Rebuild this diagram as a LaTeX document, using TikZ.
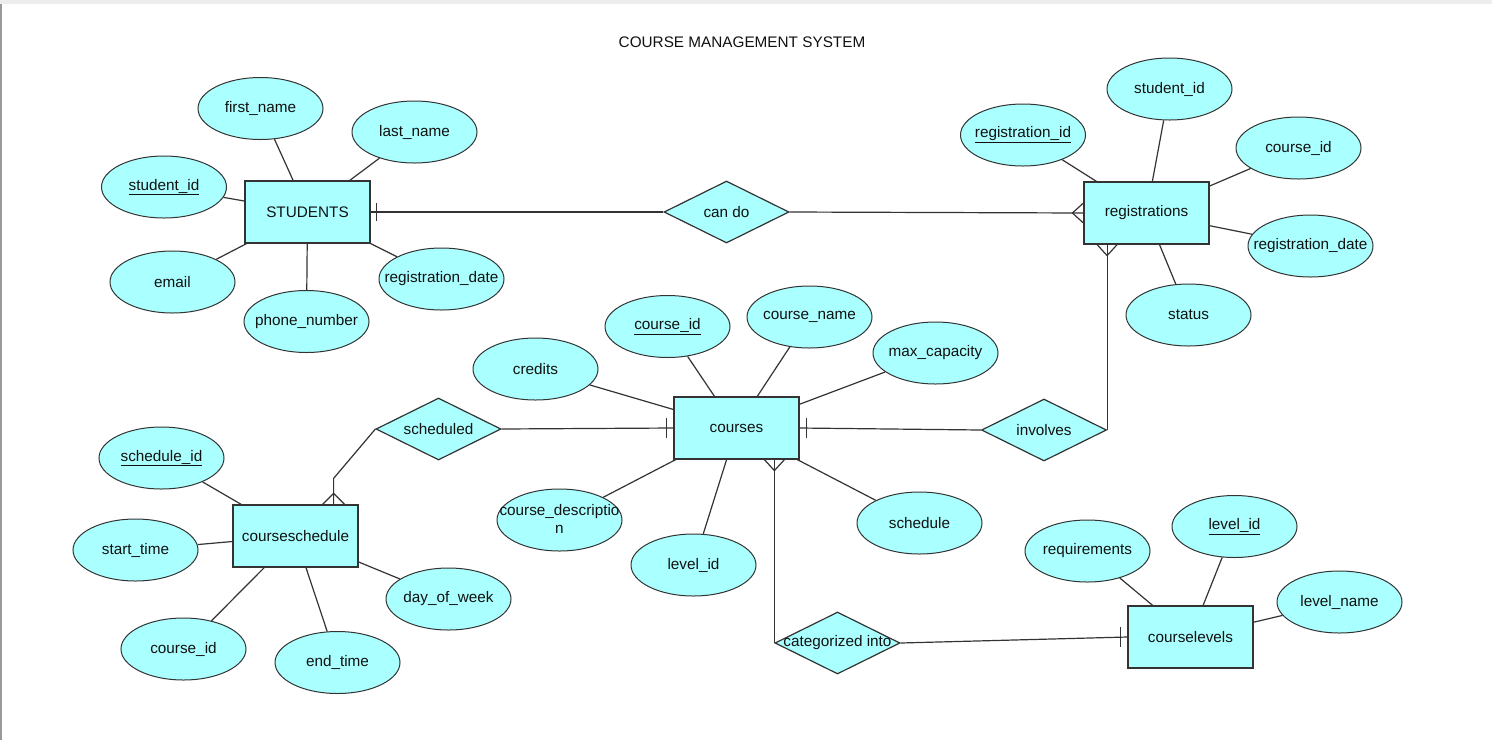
\documentclass[tikz,border=0pt]{standalone}
\usepackage{fontspec}
\setmainfont{Liberation Sans}
\usetikzlibrary{shapes.geometric,calc}
\definecolor{attrfill}{RGB}{170,255,255}
\definecolor{edgecol}{RGB}{51,51,51}
\definecolor{txtcol}{RGB}{17,17,17}
\begin{document}
\begin{tikzpicture}[x=1pt,y=-1pt,
  every node/.style={font=\fontsize{15.3}{18}\selectfont, text=txtcol},
  attr/.style={ellipse, draw=edgecol, line width=1pt, fill=attrfill, minimum width=125pt, minimum height=62pt, inner sep=0pt, label=center:{#1}},
  entity/.style={rectangle, draw=edgecol, line width=1.2pt, fill=attrfill, minimum width=125pt, minimum height=62pt, inner sep=0pt},
  rel/.style={diamond, draw=edgecol, line width=1.2pt, fill=attrfill, minimum width=125pt, minimum height=62pt, inner sep=0pt, aspect=2, label=center:{#1}},
  conn/.style={draw=edgecol, line width=1.2pt},
]
% canvas
\useasboundingbox (0,0) rectangle (1492,740);
\fill[white] (0,0) rectangle (1492,740);
\fill[black!7] (0,0) rectangle (1492,4);
\draw[black!40, line width=1.5pt] (1,4) -- (1,740);

\node (title) at (742,42) {COURSE MANAGEMENT SYSTEM};

% ---------- nodes ----------
\node[entity] (students) at (307.5,212) {STUDENTS};
\node[attr={first\_name}] (sfirst) at (260.5,108.5) {};
\node[attr={last\_name}] (slast) at (414.5,132) {};
\node[attr={\underline{student\_id}}] (sid) at (164,187) {};
\node[attr={email}] (semail) at (172.5,282) {};
\node[attr={phone\_number}] (sphone) at (306.5,321.5) {};
\node[attr={registration\_date}] (sregdate) at (441.5,279) {};

\node[rel={can do}] (cando) at (726.5,212) {};

\node[entity] (regs) at (1146.5,213) {registrations};
\node[attr={\underline{registration\_id}}] (rid) at (1023,135) {};
\node[attr={student\_id}] (rsid) at (1169.5,89) {};
\node[attr={course\_id}] (rcid) at (1298.5,148) {};
\node[attr={registration\_date}] (rdate) at (1310.5,246) {};
\node[attr={status}] (rstatus) at (1188.5,315) {};

\node[entity] (courses) at (736.5,428) {courses};
\node[attr={\underline{course\_id}}] (cid) at (667.5,326.5) {};
\node[attr={course\_name}] (cname) at (809.5,317) {};
\node[attr={max\_capacity}] (cmax) at (935.5,353) {};
\node[attr={credits}] (ccred) at (535.5,369) {};
\node[attr={}] (cdesc) at (559.5,520) {};
\node[align=center] (cdesctext) at ($(cdesc)+(0,-1)$) {course\_descriptio\\n};
\node[attr={level\_id}] (clevel) at (693.5,565) {};
\node[attr={schedule}] (csched) at (919.5,523) {};

\node[rel={involves}] (involves) at (1044,430) {};
\node[rel={scheduled}] (scheduled) at (438.5,429) {};

\node[entity] (cs) at (295.5,536) {courseschedule};
\node[attr={\underline{schedule\_id}}] (csid) at (161.5,458) {};
\node[attr={start\_time}] (csstart) at (135.5,550) {};
\node[attr={course\_id}] (cscid) at (183.5,649) {};
\node[attr={end\_time}] (csend) at (337.5,662.5) {};
\node[attr={day\_of\_week}] (csday) at (448.5,599) {};

\node[rel={categorized into}] (catinto) at (837.5,643) {};

\node[entity] (levels) at (1190.5,637) {courselevels};
\node[attr={requirements}] (lreq) at (1087.5,551) {};
\node[attr={\underline{level\_id}}] (lid) at (1234.5,526.5) {};
\node[attr={level\_name}] (lname) at (1339.5,602) {};

% ---------- attribute connectors ----------
\draw[conn] (sfirst) -- (students);
\draw[conn] (slast) -- (students);
\draw[conn] (sid) -- (students);
\draw[conn] (semail) -- (students);
\draw[conn] (sphone) -- (students);
\draw[conn] (sregdate) -- (students);

\draw[conn] (rid) -- (regs);
\draw[conn] (rsid) -- (regs);
\draw[conn] (rcid) -- (regs);
\draw[conn] (rdate) -- (regs);
\draw[conn] (rstatus) -- (regs);

\draw[conn] (cid) -- ($(courses.north)+(-22,0)$);
\draw[conn] (cname) -- (courses);
\draw[conn] (cmax) -- (courses);
\draw[conn] (ccred) -- (courses);
\draw[conn] (cdesc) -- (courses);
\draw[conn] (clevel) -- (courses);
\draw[conn] (csched) -- (courses);

\draw[conn] (csid) -- (cs);
\draw[conn] (csstart) -- (cs);
\draw[conn] (cscid) -- (cs);
\draw[conn] (csend) -- (cs);
\draw[conn] (csday) -- (cs);

\draw[conn] (lreq) -- (levels);
\draw[conn] (lid) -- (levels);
\draw[conn] (lname) -- (levels);

% ---------- relationship connectors ----------
\coordinate (rb) at (involves.east |- regs.south);
\coordinate (cb) at (catinto.west |- courses.south);
\coordinate (csb) at ($(cs.north east)+(-25,0)$);
\coordinate (csbend) at ($(csb)+(0,-26)$);

\draw[conn] (students.east) -- (cando.west);
\draw[conn] (cando.east) -- (regs.west);
\draw[conn] (scheduled.east) -- (courses.west);
\draw[conn] (courses.east) -- (involves.west);
\draw[conn] (involves.east) -- (rb);
\draw[conn] (scheduled.west) -- (csbend) -- (csb);
\draw[conn] (cb) -- (catinto.west);
\draw[conn] (catinto.east) -- (levels.west);

% one bars
\draw[conn] ($(students.east)+(6,-9)$) -- ($(students.east)+(6,9)$);
\draw[conn] ($(courses.west)+(-7,-10)$) -- ($(courses.west)+(-7,10)$);
\draw[conn] ($(courses.east)+(7,-10)$) -- ($(courses.east)+(7,10)$);
\draw[conn] ($(levels.west)+(-7,-10)$) -- ($(levels.west)+(-7,10)$);

% crow's feet
\draw[conn] ($(regs.west)+(0,-10)$) -- ($(regs.west)+(-11,0)$) -- ($(regs.west)+(0,10)$);
\draw[conn] ($(rb)+(-10,0)$) -- ($(rb)+(0,11)$) -- ($(rb)+(10,0)$);
\draw[conn] ($(cb)+(-10,0)$) -- ($(cb)+(0,11)$) -- ($(cb)+(10,0)$);
\draw[conn] ($(csb)+(-11,0)$) -- ($(csb)+(0,-11)$) -- ($(csb)+(11,0)$);
\end{tikzpicture}
\end{document}
